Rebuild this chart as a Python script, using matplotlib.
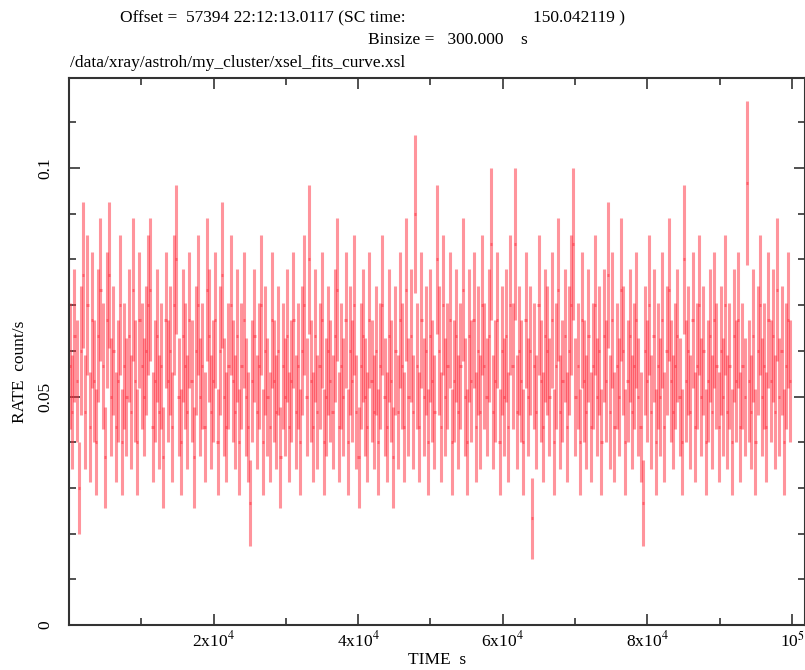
import matplotlib
matplotlib.use("Agg")
import matplotlib.pyplot as plt
import numpy as np
from matplotlib.ticker import MultipleLocator, FixedLocator, FixedFormatter

plt.rcParams['font.family'] = ['Liberation Serif', 'DejaVu Serif']
plt.rcParams['mathtext.fontset'] = 'stix'

# light curve: counts per 300 s bin
binsize = 300.0
counts = [
    17, 14, 19, 16, 9, 18, 23, 14, 21, 13, 20, 16, 12, 19, 22, 17, 11, 20, 23, 15,
    18, 13, 16, 21, 12, 17, 15, 19, 14, 22, 16, 12, 20, 17, 15, 18, 21, 22, 13, 16,
    19, 14, 17, 11, 20, 16, 18, 13, 21, 24, 15, 12, 19, 17, 14, 20, 16, 11, 18, 21,
    15, 17, 13, 22, 19, 14, 16, 20, 12, 18, 23, 15, 13, 17, 21, 16, 14, 19, 12, 17,
    20, 15, 13, 8, 16, 19, 14, 17, 21, 12, 18, 15, 13, 20, 16, 14, 18, 11, 17, 15,
    19, 13, 16, 20, 14, 17, 12, 18, 21, 15, 24, 16, 13, 19, 14, 17, 20, 12, 15, 18,
    16, 14, 19, 22, 13, 17, 15, 20, 12, 18, 16, 21, 14, 11, 17, 19, 15, 13, 20, 16,
    14, 18, 12, 17, 21, 15, 13, 19, 16, 11, 18, 14, 20, 17, 13, 22, 15, 19, 14, 27,
    17, 13, 20, 15, 18, 12, 19, 16, 14, 24, 18, 13, 21, 15, 17, 20, 12, 16, 19, 14,
    17, 22, 15, 12, 19, 16, 20, 13, 18, 14, 21, 17, 15, 19, 25, 14, 16, 20, 12, 18,
    15, 19, 13, 21, 17, 25, 14, 18, 16, 12, 20, 15, 18, 7, 17, 14, 21, 16, 13, 19,
    18, 15, 20, 12, 17, 22, 14, 16, 19, 13, 18, 21, 25, 15, 17, 12, 20, 16, 14, 19,
    13, 17, 21, 15, 18, 12, 19, 16, 23, 14, 20, 13, 17, 15, 22, 18, 12, 16, 19, 14,
    17, 20, 15, 13, 8, 18, 16, 21, 14, 19, 12, 17, 15, 20, 13, 18, 22, 16, 14, 17,
    19, 15, 12, 24, 16, 18, 14, 20, 13, 17, 21, 15, 18, 12, 16, 19, 14, 20, 17, 13,
    18, 15, 21, 14, 17, 12, 19, 16, 20, 13, 17, 15, 29, 16, 14, 19, 12, 18, 21, 15,
    17, 13, 20, 16, 19, 14, 22, 15, 18, 12, 17, 20, 16,
]
xticks = [2e4, 4e4, 6e4, 8e4, 1e5]
xticklabels = ['2x10$^{4}$', '4x10$^{4}$', '6x10$^{4}$', '8x10$^{4}$', '10$^{5}$']
yticks = [0, 0.05, 0.1]
yticklabels = ['0', '0.05', '0.1']

counts = np.array(counts, dtype=float)
time = binsize / 2 + binsize * np.arange(len(counts))
rate = counts / binsize
err = np.sqrt(counts) / binsize

fig = plt.figure(figsize=(8.05, 6.7), dpi=100)
ax = fig.add_axes([69 / 805, 1 - 625 / 670, 1 - 69 / 805, (625 - 78) / 670])

ax.errorbar(time, rate, yerr=err, xerr=binsize / 2, fmt='none',
            ecolor='#ff2a3a', elinewidth=2.2, alpha=0.5, capsize=0)

ax.set_xlim(0, 1.018e5)
ax.set_ylim(0, 0.1197)

ax.xaxis.set_major_locator(FixedLocator(xticks))
ax.xaxis.set_major_formatter(FixedFormatter(xticklabels))
ax.xaxis.set_minor_locator(MultipleLocator(1e4))
ax.yaxis.set_major_locator(FixedLocator(yticks))
ax.yaxis.set_major_formatter(FixedFormatter(yticklabels))
ax.yaxis.set_minor_locator(MultipleLocator(0.01))

ax.tick_params(which='both', direction='in', top=True, right=True,
               color='#333333', width=1.2, labelsize=12.5)
ax.tick_params(which='major', length=8)
ax.tick_params(which='minor', length=5)
ax.tick_params(axis='x', pad=4)
ax.tick_params(axis='y', pad=17)
for lab in ax.get_yticklabels():
    lab.set_rotation(90)
    lab.set_va('center')
    lab.set_ha('center')
for sp in ax.spines.values():
    sp.set_linewidth(1.5)
    sp.set_color('#333333')

fig.text(20 / 805, 1 - 372 / 670, 'RATE  count/s', rotation=90,
         ha='center', va='center', fontsize=12.5)
fig.text(437 / 805, 1 - 660 / 670, 'TIME  s', ha='center', va='center', fontsize=12.5)

fig.text(120 / 805, 1 - 18 / 670, 'Offset =  57394 22:12:13.0117 (SC time:',
         ha='left', va='center', fontsize=12.5)
fig.text(533 / 805, 1 - 18 / 670, '150.042119 )',
         ha='left', va='center', fontsize=12.5)
fig.text(368 / 805, 1 - 40 / 670, 'Binsize =   300.000    s',
         ha='left', va='center', fontsize=12.5)
fig.text(70 / 805, 1 - 63 / 670, '/data/xray/astroh/my_cluster/xsel_fits_curve.xsl',
         ha='left', va='center', fontsize=12.5)

fig.savefig('out.png', dpi=100)
